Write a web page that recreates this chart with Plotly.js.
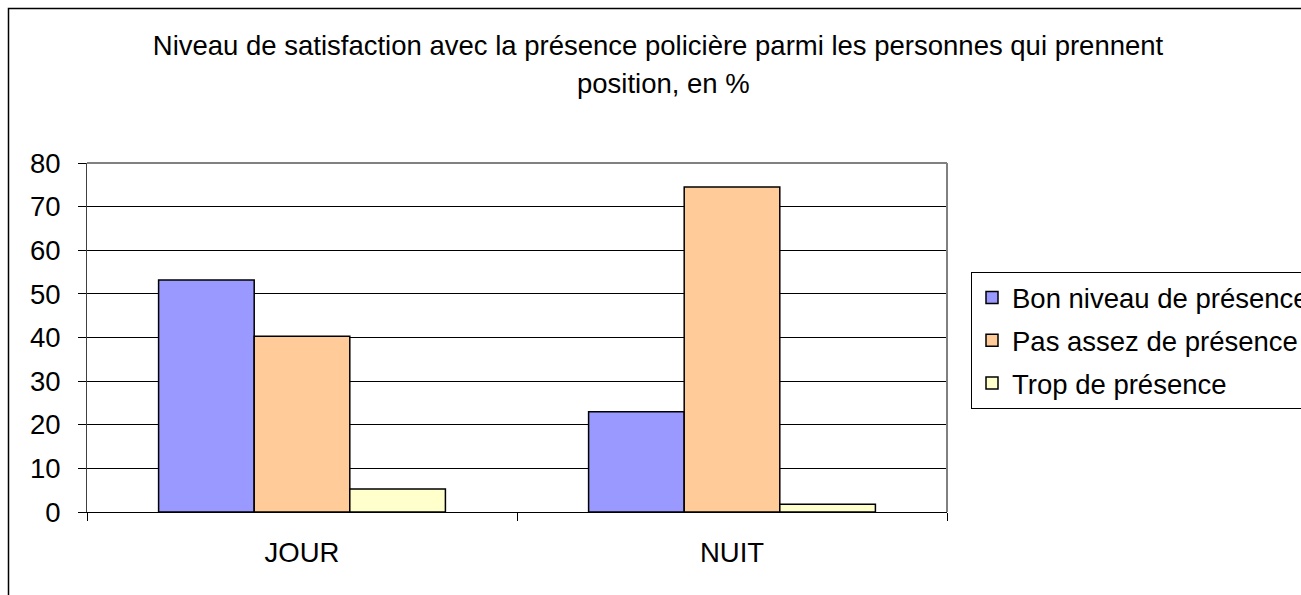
<!DOCTYPE html>
<html>
<head>
<meta charset="utf-8">
<script src="https://cdn.plot.ly/plotly-3.0.1.min.js"></script>
<style>html,body{margin:0;padding:0;background:#fff;overflow:hidden}#chart{width:1301px;height:595px}</style>
</head>
<body>
<div id="chart"></div>
<script>
const categories = ["JOUR", "NUIT"];
const seriesNames = ["Bon niveau de présence", "Pas assez de présence", "Trop de présence"];
const bonNiveau = [53.2, 23.0];
const pasAssez = [40.3, 74.5];
const trop = [5.3, 1.8];
const seriesColors = ["#9999FF", "#FFCC99", "#FFFFCC"];
const yTicks = [0, 10, 20, 30, 40, 50, 60, 70, 80];
const titleLine1 = "Niveau de satisfaction avec la présence policière parmi les personnes qui prennent";
const titleLine2 = "position, en %";

const FONT = "Liberation Sans, Arial, sans-serif";
const FS = 27.5;
const values = [bonNiveau, pasAssez, trop];
const traces = values.map((v, i) => ({
  type: "bar",
  x: categories,
  y: v,
  name: seriesNames[i],
  legendgroup: "g" + i,
  marker: {color: seriesColors[i], line: {color: "#000000", width: 1.5}},
  hoverinfo: "x+y+name"
}));

const L = 87, R = 947, T = 163, B = 512, W = 1301, H = 595;
const pw = R - L, ph = B - T;
const px = v => (v - L) / pw;
const py = v => (B - v) / ph;

const layout = {
  width: W, height: H,
  margin: {l: L, r: W - R, t: T, b: H - B, autoexpand: false},
  paper_bgcolor: "#ffffff",
  plot_bgcolor: "#ffffff",
  font: {family: FONT, size: FS, color: "#000000"},
  title: {text: titleLine1, font: {family: FONT, size: FS, color: "#000"}, x: px(658), xref: "paper", xanchor: "center", y: 1 - 45 / H, yanchor: "middle"},
  barmode: "group",
  bargap: 0.333,
  bargroupgap: 0,
  showlegend: true,
  legend: {
    x: px(971), xanchor: "left", y: py(272), yanchor: "top",
    bgcolor: "#ffffff", bordercolor: "#000000", borderwidth: 1,
    font: {family: FONT, size: FS, color: "#000"},
    traceorder: "grouped", tracegroupgap: 4,
    itemwidth: 30
  },
  xaxis: {
    type: "category",
    showline: true, linecolor: "#000000", linewidth: 1,
    ticks: "outside", tickson: "boundaries", ticklen: 8, tickcolor: "#000000", tickwidth: 1,
    ticklabelstandoff: 16,
    tickfont: {family: FONT, size: FS, color: "#000"},
    showgrid: false, zeroline: false, fixedrange: true
  },
  yaxis: {
    range: [0, 80],
    tickmode: "array", tickvals: yTicks, ticktext: yTicks.map(String),
    showline: true, linecolor: "#404040", linewidth: 1,
    ticks: "outside", ticklen: 8, tickcolor: "#000000", tickwidth: 1,
    ticklabelstandoff: 12,
    tickfont: {family: FONT, size: FS, color: "#000"},
    showgrid: true, gridcolor: "#000000", gridwidth: 1,
    zeroline: false, fixedrange: true
  },
  shapes: [
    {type: "line", xref: "paper", yref: "paper", x0: 0, x1: 1, y0: 1, y1: 1, line: {color: "#808080", width: 2}, layer: "above"},
    {type: "line", xref: "paper", yref: "paper", x0: 1, x1: 1, y0: 0, y1: 1, line: {color: "#808080", width: 2}, layer: "above"},
    {type: "rect", xref: "paper", yref: "paper", x0: px(8.5), x1: px(1310), y0: py(8.5), y1: py(610), line: {color: "#000000", width: 1.5}, layer: "below"}
  ],
  annotations: [
    {text: titleLine2, xref: "paper", yref: "paper", x: px(663), y: py(83), xanchor: "center", yanchor: "middle", showarrow: false, font: {family: FONT, size: FS, color: "#000"}}
  ]
};

Plotly.newPlot("chart", traces, layout, {displayModeBar: false, staticPlot: true});
</script>
</body>
</html>
